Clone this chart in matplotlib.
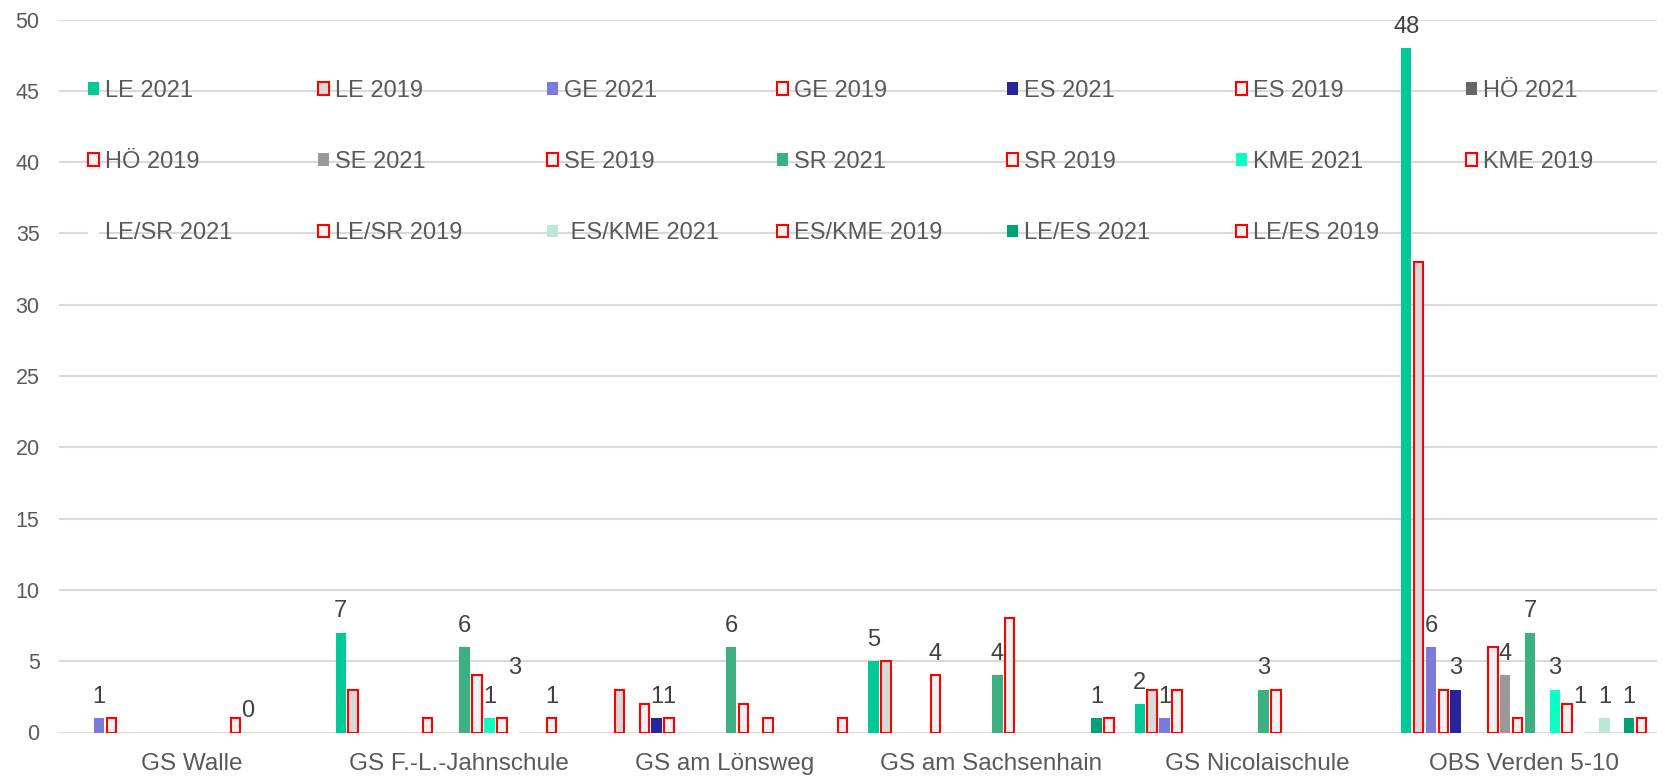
import numpy as np
import matplotlib
matplotlib.use("Agg")
import matplotlib.pyplot as plt
from matplotlib.patches import Patch

nan = np.nan

# ---------------- data ----------------
schools = ["GS Walle", "GS F.-L.-Jahnschule", "GS am Lönsweg",
           "GS am Sachsenhain", "GS Nicolaischule", "OBS Verden 5-10"]

le_2021 = [nan, 7, nan, 5, 2, 48]
le_2019 = [nan, 3, 3, 5, 3, 33]
ge_2021 = [1, nan, nan, nan, 1, 6]
ge_2019 = [1, nan, 2, nan, 3, 3]
es_2021 = [nan, nan, 1, nan, nan, 3]
es_2019 = [nan, nan, 1, 4, nan, nan]
hoe_2021 = [nan, nan, nan, nan, nan, nan]
hoe_2019 = [nan, 1, nan, nan, nan, 6]
se_2021 = [nan, nan, nan, nan, nan, 4]
se_2019 = [nan, nan, nan, nan, nan, 1]
sr_2021 = [nan, 6, 6, 4, 3, 7]
sr_2019 = [nan, 4, 2, 8, 3, nan]
kme_2021 = [nan, 1, nan, nan, nan, 3]
kme_2019 = [1, 1, 1, nan, nan, 2]
lesr_2021 = [0, 3, nan, nan, nan, 1]
lesr_2019 = [nan, nan, nan, nan, nan, nan]
eskme_2021 = [nan, nan, nan, nan, nan, 1]
eskme_2019 = [nan, 1, nan, nan, nan, nan]
lees_2021 = [nan, nan, nan, 1, nan, 1]
lees_2019 = [nan, nan, 1, 1, nan, 1]

series_labels = ["LE 2021", "LE 2019", "GE 2021", "GE 2019", "ES 2021", "ES 2019",
                 "HÖ 2021", "HÖ 2019", "SE 2021", "SE 2019", "SR 2021", "SR 2019",
                 "KME 2021", "KME 2019", "LE/SR 2021", "LE/SR 2019",
                 " ES/KME 2021", "ES/KME 2019", "LE/ES 2021", "LE/ES 2019"]
series_values = [le_2021, le_2019, ge_2021, ge_2019, es_2021, es_2019,
                 hoe_2021, hoe_2019, se_2021, se_2019, sr_2021, sr_2019,
                 kme_2021, kme_2019, lesr_2021, lesr_2019,
                 eskme_2021, eskme_2019, lees_2021, lees_2019]
colors_2021 = ["#00C896", "#7B7BDB", "#26269A", "#666666", "#999999",
               "#3CB080", "#0AFFC2", "#FFFFFF", "#B9E8D3", "#00A078"]
fill_2019 = ["#D9D9D9"] + ["#F2F2F2"] * 9
labelled = {"ES 2019", "ES/KME 2019"}

yticks = list(range(0, 51, 5))

# ---------------- figure ----------------
plt.rcParams['font.family'] = ['Liberation Sans', 'DejaVu Sans']
W, H = 1665, 777
fig = plt.figure(figsize=(W / 100, H / 100), dpi=100)
left, right, bottom_px, top_px = 59, 1657, 732.5, 19.5
ax = fig.add_axes([left / W, 1 - bottom_px / H, (right - left) / W, (bottom_px - top_px) / H])

n = len(series_labels)
slot = 1.0 / (n + 1.5)
xs = np.arange(len(schools))
red = "#FF0000"
handles = []
for i, (lab, vals) in enumerate(zip(series_labels, series_values)):
    v = np.array(vals, dtype=float)
    x = xs + (i - (n - 1) / 2) * slot
    m = ~np.isnan(v)
    k = i // 2
    if i % 2 == 0:
        fc = colors_2021[k]
        ax.bar(x[m], v[m], width=slot * 0.84, color=fc, edgecolor='none', zorder=3)
        h = Patch(facecolor=fc, edgecolor='none')
        show = True
    else:
        fc = fill_2019[k]
        ax.bar(x[m], v[m], width=slot * 0.76, facecolor=fc, edgecolor=red,
               linewidth=1.5, zorder=3)
        h = Patch(facecolor=fc, edgecolor=red, linewidth=1.5)
        show = lab.strip() in labelled
    handles.append(h)
    if show:
        for xi, vi in zip(x[m], v[m]):
            ax.annotate(f"{int(vi)}", (xi, vi), xytext=(0, 11), textcoords='offset points',
                        ha='center', va='baseline', fontsize=17, color='#404040', zorder=5)

ax.set_xlim(-0.5, len(schools) - 0.5)
ax.set_ylim(0, 50)
ax.set_yticks(yticks)
ax.set_xticks(xs)
ax.set_xticklabels(schools)
ax.tick_params(axis='x', length=0, pad=15, labelsize=17.5, labelcolor='#595959')
ax.tick_params(axis='y', length=0, pad=14, labelsize=15.5, labelcolor='#595959')
ax.yaxis.grid(True, color='#D9D9D9', linewidth=1.5, zorder=0)
ax.set_axisbelow(True)
for s in ax.spines.values():
    s.set_visible(False)

# ---------------- legend (3 rows x 7 columns, row-wise) ----------------
col_x = [88, 317.7, 547.3, 777, 1006.7, 1236.3, 1466]
row_vals = [45, 40, 35]
ax_b = 1 - bottom_px / H
ax_h = (bottom_px - top_px) / H
for idx, (lab, h) in enumerate(zip(series_labels, handles)):
    r, c = divmod(idx, 7)
    yf = ax_b + ax_h * row_vals[r] / 50
    fig.legend(handles=[h], labels=[lab], loc='center left',
               bbox_to_anchor=(col_x[c] / W, yf), bbox_transform=fig.transFigure,
               frameon=False, borderpad=0, borderaxespad=0,
               handlelength=0.47, handleheight=0.47, handletextpad=0.25,
               fontsize=17, labelcolor='#595959')

fig.savefig("out.png", dpi=100)
